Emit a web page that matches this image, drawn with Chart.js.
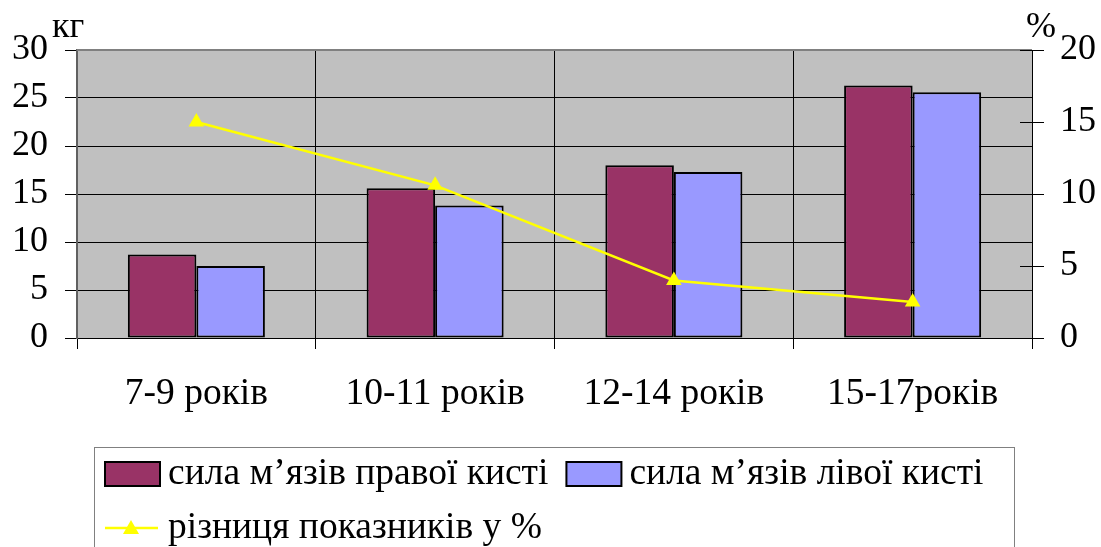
<!DOCTYPE html>
<html>
<head>
<meta charset="utf-8">
<script src="https://cdn.jsdelivr.net/npm/chart.js@4/dist/chart.umd.min.js"></script>
<style>
  html, body { margin: 0; padding: 0; background: #fff; }
  #wrap { width: 1101px; height: 547px; position: relative; }
</style>
</head>
<body>
<div id="wrap"><canvas id="c" width="1101" height="547"></canvas></div>
<script>
// Age groups and hand-grip strength (kg), plus the right/left difference (%)
const categories = ['7-9 років', '10-11 років', '12-14 років', '15-17років'];
const rightHand = [8.7, 15.6, 18.0, 26.3];
const leftHand = [7.5, 13.8, 17.3, 25.6];
const diffPercent = [15.0, 10.6, 4.0, 2.5];

const seriesNames = ['сила м’язів правої кисті', 'сила м’язів лівої кисті', 'різниця показників у %'];
const leftTicks = [0, 5, 10, 15, 20, 25, 30];
const rightTicks = [0, 5, 10, 15, 20];

const FONT = "'Liberation Serif', 'Times New Roman', serif";
const FS = 36;
const FS_LABEL = 37.5;
const FS_LEGEND = 37.5;
const MAROON = '#993366';
const LAVENDER = '#9999FF';
const YELLOW = '#FFFF00';

// Grey plot background
const plotBg = {
  id: 'plotBg',
  beforeDraw(chart) {
    const a = chart.chartArea, ctx = chart.ctx;
    ctx.save();
    ctx.fillStyle = '#C0C0C0';
    ctx.fillRect(a.left, a.top, a.right - a.left, a.bottom - a.top);
    ctx.restore();
  }
};

// Unit captions, cross ticks on the right axis, and the boxed legend
const extras = {
  id: 'extras',
  afterDraw(chart) {
    const ctx = chart.ctx, a = chart.chartArea;
    const y1 = chart.scales.y1;
    ctx.save();
    // grey top edge of the plot frame
    ctx.strokeStyle = '#808080';
    ctx.lineWidth = 2;
    ctx.beginPath();
    ctx.moveTo(a.left, a.top); ctx.lineTo(a.right, a.top);
    ctx.stroke();
    // right axis inner tick halves
    ctx.strokeStyle = '#000';
    ctx.lineWidth = 1;
    rightTicks.forEach(v => {
      const y = Math.round(y1.getPixelForValue(v)) + 0.5;
      ctx.beginPath();
      ctx.moveTo(a.right - 12, y); ctx.lineTo(a.right, y);
      ctx.stroke();
    });

    ctx.fillStyle = '#000';
    ctx.font = FS + 'px ' + FONT;
    ctx.textBaseline = 'alphabetic';
    ctx.textAlign = 'left';
    ctx.fillText('кг', 52, 37);
    ctx.fillText('%', 1026, 37);

    // legend frame
    ctx.strokeStyle = '#808080';
    ctx.lineWidth = 1;
    ctx.strokeRect(94.5, 447.5, 920, 140);

    const byLabel = name => chart.data.datasets.find(d => d.label === name);
    const bars = [byLabel(seriesNames[0]), byLabel(seriesNames[1])];
    const line = byLabel(seriesNames[2]);
    ctx.font = FS_LEGEND + 'px ' + FONT;
    ctx.textBaseline = 'middle';
    let x = 105;
    const row1 = 474, row2 = 528;
    bars.forEach(d => {
      ctx.fillStyle = d.backgroundColor;
      ctx.fillRect(x, row1 - 12, 55, 24);
      ctx.strokeStyle = '#000';
      ctx.lineWidth = 2;
      ctx.strokeRect(x, row1 - 12, 55, 24);
      ctx.fillStyle = '#000';
      ctx.fillText(d.label, x + 63, row1);
      x = x + 63 + ctx.measureText(d.label).width + 18;
    });
    // line series key
    ctx.strokeStyle = line.borderColor;
    ctx.lineWidth = 2.5;
    ctx.beginPath();
    ctx.moveTo(105, row2); ctx.lineTo(158, row2);
    ctx.stroke();
    ctx.fillStyle = line.backgroundColor;
    ctx.beginPath();
    ctx.moveTo(131, row2 - 8); ctx.lineTo(139, row2 + 6); ctx.lineTo(123, row2 + 6);
    ctx.closePath();
    ctx.fill();
    ctx.fillStyle = '#000';
    ctx.fillText(line.label, 168, row2);
    ctx.restore();
  }
};

const chart = new Chart(document.getElementById('c'), {
  type: 'bar',
  data: {
    labels: categories,
    datasets: [
      {
        type: 'line',
        label: seriesNames[2],
        data: diffPercent,
        yAxisID: 'y1',
        borderColor: YELLOW,
        backgroundColor: YELLOW,
        borderWidth: 2.5,
        pointStyle: 'triangle',
        pointRadius: 9,
        pointHoverRadius: 9,
        pointBorderWidth: 0,
        pointBackgroundColor: YELLOW,
        order: 0
      },
      {
        label: seriesNames[0],
        data: rightHand,
        backgroundColor: MAROON,
        borderColor: '#000',
        borderWidth: 2,
        borderSkipped: false,
        yAxisID: 'y',
        order: 1
      },
      {
        label: seriesNames[1],
        data: leftHand,
        backgroundColor: LAVENDER,
        borderColor: '#000',
        borderWidth: 2,
        borderSkipped: false,
        yAxisID: 'y',
        order: 2
      }
    ]
  },
  options: {
    responsive: false,
    animation: false,
    events: [],
    layout: { padding: { top: 50, left: 0, right: 0, bottom: 0 } },
    datasets: { bar: { categoryPercentage: 0.574, barPercentage: 1.0 } },
    plugins: { legend: { display: false }, tooltip: { enabled: false } },
    scales: {
      x: {
        grid: {
          offset: true,
          color: '#000',
          lineWidth: 1,
          tickLength: 11,
          drawTicks: true
        },
        border: { color: '#000', width: 1 },
        ticks: { color: '#000', font: { family: FONT, size: FS_LABEL }, padding: 23, maxRotation: 0 },
        afterFit(s) { s.height = 209; }
      },
      y: {
        position: 'left',
        min: 0, max: 30,
        afterBuildTicks(s) { s.ticks = leftTicks.map(v => ({ value: v })); },
        grid: { color: '#000', lineWidth: 1, tickLength: 12 },
        border: { color: '#606060', width: 2 },
        ticks: { color: '#000', font: { family: FONT, size: FS }, padding: 17 },
        afterFit(s) { s.width = 77; }
      },
      y1: {
        position: 'right',
        min: 0, max: 20,
        afterBuildTicks(s) { s.ticks = rightTicks.map(v => ({ value: v })); },
        grid: { drawOnChartArea: false, color: '#000', lineWidth: 1, tickLength: 12 },
        border: { color: '#000', width: 1 },
        ticks: { color: '#000', font: { family: FONT, size: FS }, padding: 16 },
        afterFit(s) { s.width = 69; }
      }
    }
  },
  plugins: [plotBg, extras]
});
</script>
</body>
</html>
